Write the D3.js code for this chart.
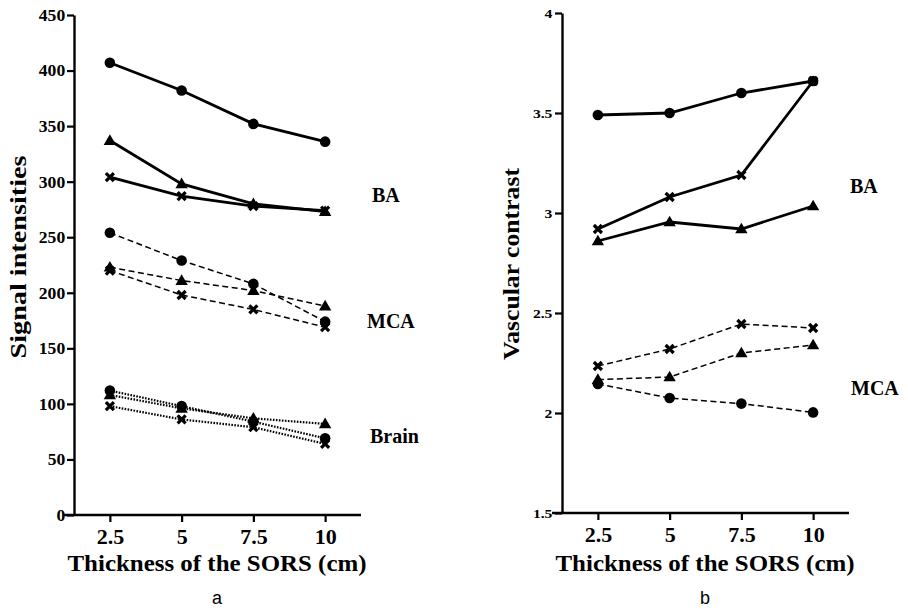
<!DOCTYPE html>
<html>
<head>
<meta charset='utf-8'>
<script src='https://cdn.jsdelivr.net/npm/d3@7/dist/d3.min.js'></script>
<style>
  body {margin:0; background:#fff;}
</style>
</head>
<body>
<svg id='fig' width='908' height='609'></svg>
<script>
const thickness=[2.5,5,7.5,10];
const xTicks=[2.5,5,7.5,10];

// panel a: signal intensities
const sigBA_circle=[407,382,352,336];
const sigBA_tri=[337,298,280,273];
const sigBA_cross=[304,287,278,274];
const sigMCA_circle=[254,229,208,174];
const sigMCA_tri=[223,211,202,188];
const sigMCA_cross=[220,198,185,169];
const sigBrain_circle=[112,98,84,69];
const sigBrain_tri=[108,96,87,82];
const sigBrain_cross=[98,86,79,64];
const sigTicks=[0,50,100,150,200,250,300,350,400,450];

// panel b: vascular contrast
const vcBA_circle=[3.49,3.50,3.60,3.66];
const vcBA_tri=[2.86,2.955,2.92,3.035];
const vcBA_cross=[2.92,3.08,3.19,3.66];
const vcMCA_circle=[2.145,2.075,2.047,2.003];
const vcMCA_tri=[2.167,2.18,2.30,2.34];
const vcMCA_cross=[2.235,2.32,2.445,2.425];
const vcTicks=[1.5,2,2.5,3,3.5,4];

const serif="'Liberation Serif','Times New Roman',serif";
const svg=d3.select('#fig');

const lineStyle={
  solid:{w:2.8,dash:null},
  dash:{w:1.5,dash:'6,3.5'},
  dot:{w:2.2,dash:'1.6,1.4'}
};

function marker(g,kind,cx,cy){
  if(kind=='circle'){
    g.append('circle').attr('cx',cx).attr('cy',cy).attr('r',5.3).attr('fill','#000');
  } else if(kind=='tri'){
    g.append('path').attr('d',d3.symbol(d3.symbolTriangle,66)())
     .attr('transform',`translate(${cx},${cy+0.8})`).attr('fill','#000');
  } else {
    g.append('path').attr('d','M-4,-4L4,4M-4,4L4,-4')
     .attr('transform',`translate(${cx},${cy})`)
     .attr('stroke','#000').attr('stroke-width',3.2).attr('fill','none');
  }
}

function panel(cfg){
  const x=d3.scaleLinear().domain([1.25,11.25]).range([cfg.left,cfg.left+287]);
  const y=d3.scaleLinear().domain(cfg.ydom).range([cfg.bottom,cfg.top]);
  const g=svg.append('g');

  const ya=g.append('g').attr('transform',`translate(${cfg.left},0)`)
    .call(d3.axisLeft(y).tickValues(cfg.yticks).tickSize(7).tickSizeOuter(0).tickFormat(d3.format('')));
  ya.attr('font-family',serif).attr('font-weight','bold').attr('font-size',cfg.ytfs);
  ya.select('.domain').attr('stroke-width',2.4);
  ya.selectAll('.tick line').attr('stroke-width',2.2);
  ya.selectAll('.tick text').attr('x',-8).attr('dy','0.34em')
    .attr('transform',`scale(${cfg.ysx},1)`);

  const xa=g.append('g').attr('transform',`translate(0,${cfg.bottom})`)
    .call(d3.axisBottom(x).tickValues(xTicks).tickSize(7).tickSizeOuter(0).tickFormat(d3.format('')));
  xa.attr('font-family',serif).attr('font-weight','bold').attr('font-size',22);
  xa.select('.domain').attr('d',`M${cfg.left-10},0H${cfg.left+287}`).attr('stroke-width',2.4);
  xa.selectAll('.tick line').attr('stroke-width',2.2);
  xa.selectAll('.tick text').attr('y',13);

  g.append('text').attr('font-family',serif).attr('font-weight','bold').attr('font-size',23)
   .attr('text-anchor','middle')
   .attr('textLength',cfg.ytlen).attr('lengthAdjust','spacingAndGlyphs')
   .attr('transform',`translate(${cfg.ytx},${cfg.ytc}) rotate(-90)`)
   .text(cfg.ytitle);
  g.append('text').attr('font-family',serif).attr('font-weight','bold').attr('font-size',23)
   .attr('text-anchor','middle').attr('x',cfg.left+143).attr('y',571)
   .attr('textLength',299).attr('lengthAdjust','spacingAndGlyphs')
   .text('Thickness of the SORS (cm)');
  g.append('text').attr('font-family',"'Liberation Sans',Arial,sans-serif").attr('font-size',18)
   .attr('text-anchor','middle').attr('x',cfg.left+143).attr('y',604).text(cfg.tag);

  cfg.series.forEach(s=>{
    const st=lineStyle[s.style];
    g.append('path').datum(s.values)
     .attr('d',d3.line().x((d,i)=>x(thickness[i])).y(d=>y(d)))
     .attr('fill','none').attr('stroke','#000').attr('stroke-width',st.w)
     .attr('stroke-dasharray',st.dash);
    s.values.forEach((v,i)=>marker(g,s.mark,x(thickness[i]),y(v)));
  });

  cfg.groups.forEach(gr=>{
    g.append('text').attr('font-family',serif).attr('font-weight','bold').attr('font-size',20)
     .attr('x',gr.x).attr('y',y(gr.v)).text(gr.name);
  });
}

panel({
  left:74, top:15, bottom:515, ydom:[0,450], yticks:sigTicks, ytfs:16, ysx:1.1,
  ytitle:'Signal intensities', ytx:26, ytc:257, ytlen:203, tag:'a',
  series:[
    {values:sigBA_circle,mark:'circle',style:'solid'},
    {values:sigBA_tri,mark:'tri',style:'solid'},
    {values:sigBA_cross,mark:'cross',style:'solid'},
    {values:sigMCA_circle,mark:'circle',style:'dash'},
    {values:sigMCA_tri,mark:'tri',style:'dash'},
    {values:sigMCA_cross,mark:'cross',style:'dash'},
    {values:sigBrain_circle,mark:'circle',style:'dot'},
    {values:sigBrain_tri,mark:'tri',style:'dot'},
    {values:sigBrain_cross,mark:'cross',style:'dot'}
  ],
  groups:[{name:'BA',x:372,v:282},{name:'MCA',x:367,v:168},{name:'Brain',x:370,v:65}]
});

panel({
  left:562, top:13, bottom:513, ydom:[1.5,4], yticks:vcTicks, ytfs:13, ysx:1.2,
  ytitle:'Vascular contrast', ytx:519, ytc:264, ytlen:192, tag:'b',
  series:[
    {values:vcBA_circle,mark:'circle',style:'solid'},
    {values:vcBA_tri,mark:'tri',style:'solid'},
    {values:vcBA_cross,mark:'cross',style:'solid'},
    {values:vcMCA_circle,mark:'circle',style:'dash'},
    {values:vcMCA_tri,mark:'tri',style:'dash'},
    {values:vcMCA_cross,mark:'cross',style:'dash'}
  ],
  groups:[{name:'BA',x:850,v:3.1},{name:'MCA',x:851,v:2.09}]
});
</script>
</body>
</html>
